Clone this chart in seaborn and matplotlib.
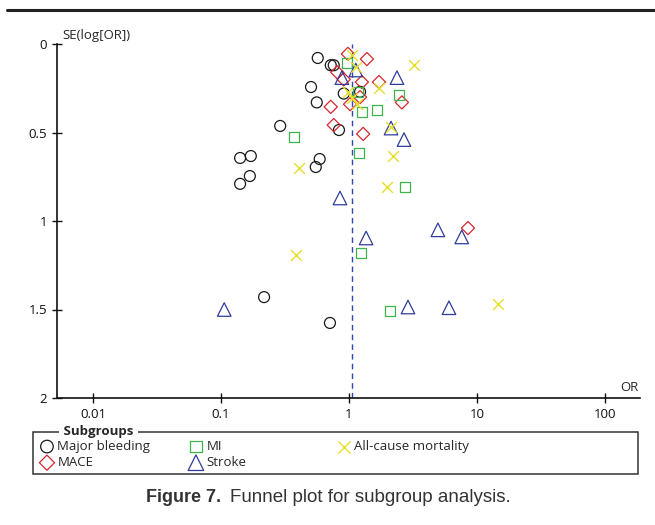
import numpy as np
import pandas as pd
import seaborn as sns
import matplotlib.pyplot as plt
from matplotlib.lines import Line2D
from matplotlib.patches import Rectangle

# values (OR, SE of log OR)
major_or = [0.57, 0.72, 0.76, 0.505, 0.56, 0.91, 1.22, 0.29, 0.835, 0.141,
            0.171, 0.141, 0.168, 0.59, 0.55, 0.217, 0.71]
major_se = [0.079, 0.12, 0.12, 0.243, 0.33, 0.28, 0.27, 0.463, 0.486, 0.644,
            0.633, 0.79, 0.746, 0.65, 0.695, 1.43, 1.576]

mace_or = [0.98, 1.38, 0.81, 0.91, 1.26, 1.715, 1.22, 1.02, 0.72, 2.59, 0.76, 1.29, 8.5]
mace_se = [0.056, 0.085, 0.16, 0.20, 0.215, 0.215, 0.30, 0.34, 0.355, 0.33, 0.458, 0.508, 1.04]

mi_or = [0.97, 1.18, 1.26, 1.65, 2.46, 0.372, 1.2, 2.74, 1.24, 2.09]
mi_se = [0.107, 0.27, 0.385, 0.373, 0.288, 0.525, 0.616, 0.81, 1.18, 1.51]

stroke_or = [1.13, 0.88, 2.37, 2.13, 2.69, 0.85, 1.36, 4.95, 7.6, 0.106, 2.89, 6.04]
stroke_se = [0.147, 0.19, 0.19, 0.475, 0.54, 0.87, 1.096, 1.05, 1.09, 1.50, 1.486, 1.49]

mort_or = [1.05, 3.22, 1.13, 0.98, 1.71, 1.05, 1.15, 2.13, 2.2, 0.41, 1.98, 0.385, 14.6]
mort_se = [0.062, 0.12, 0.13, 0.27, 0.25, 0.305, 0.34, 0.47, 0.633, 0.70, 0.81, 1.19, 1.47]

pooled_or = 1.06

groups = ['Major bleeding', 'MACE', 'MI', 'Stroke', 'All-cause mortality']
x_ticks = [0.01, 0.1, 1, 10, 100]
x_labels = ['0.01', '0.1', '1', '10', '100']
y_ticks = [0, 0.5, 1, 1.5, 2]
y_labels = ['0', '0.5', '1', '1.5', '2']

df = pd.concat([
    pd.DataFrame({'OR': major_or, 'SE': major_se, 'Subgroup': 'Major bleeding'}),
    pd.DataFrame({'OR': mace_or, 'SE': mace_se, 'Subgroup': 'MACE'}),
    pd.DataFrame({'OR': mi_or, 'SE': mi_se, 'Subgroup': 'MI'}),
    pd.DataFrame({'OR': stroke_or, 'SE': stroke_se, 'Subgroup': 'Stroke'}),
    pd.DataFrame({'OR': mort_or, 'SE': mort_se, 'Subgroup': 'All-cause mortality'}),
])

style = {
    'Major bleeding': ('o', '#1a1a1a', 62),
    'MACE': ('D', '#d7262e', 45),
    'MI': ('s', '#3cb54a', 52),
    'Stroke': ('^', '#2e3d9a', 95),
    'All-cause mortality': ('x', '#e6df2a', 60),
}

sns.set_style('ticks')
plt.rcParams['font.family'] = ['Open Sans', 'DejaVu Sans']

fig = plt.figure(figsize=(6.55, 5.25), dpi=100)
ax = fig.add_axes([57 / 655, 1 - 398 / 525, 583 / 655, 354 / 525])

for g in groups:
    m, c, s = style[g]
    sub = df[df['Subgroup'] == g]
    if m == 'x':
        kw = dict(color=c, linewidth=1.0)
    else:
        kw = dict(color=c, facecolor='none', edgecolor=c, linewidth=0.9)
    sns.scatterplot(data=sub, x='OR', y='SE', marker=m, s=s, ax=ax,
                    legend=False, label=g, **kw)

ax.axvline(pooled_or, color='#2f45b8', linestyle=(0, (4, 3)), linewidth=1.0, zorder=0)

ax.set_xscale('log')
ax.set_xlim(10 ** (-292 / 128), 10 ** (291 / 128))
ax.set_ylim(2, 0)
ax.set_xticks(x_ticks)
ax.set_xticklabels(x_labels)
ax.set_yticks(y_ticks)
ax.set_yticklabels(y_labels)
ax.minorticks_off()
ax.set_xlabel('')
ax.set_ylabel('')
ax.tick_params(direction='inout', length=7, width=1, labelsize=9.5, colors='#111111')
sns.despine(ax=ax)
for sp in ['left', 'bottom']:
    ax.spines[sp].set_linewidth(1.2)
    ax.spines[sp].set_color('#111111')

ax.text(0.01, 1.023, 'SE(log[OR])', transform=ax.transAxes, ha='left', va='center', fontsize=9.5)
ax.text(0.998, 0.03, 'OR', transform=ax.transAxes, ha='right', va='center', fontsize=9.5)

# top rule
fig.add_artist(Line2D([7 / 655, 1.0], [1 - 10 / 525, 1 - 10 / 525], color='#222222', linewidth=2.2))

# legend box with title on the border
fig.add_artist(Rectangle((33 / 655, 1 - 474 / 525), 605 / 655, 42 / 525, transform=fig.transFigure,
                         facecolor='none', edgecolor='#333333', linewidth=1.1))
fig.text(60 / 655, 1 - 432 / 525, ' Subgroups ', fontsize=9.5, fontweight='bold', ha='left', va='center',
         bbox=dict(facecolor='white', edgecolor='none', pad=0.5))

handles, labels = ax.get_legend_handles_labels()
hmap = dict(zip(labels, handles))
columns = [['Major bleeding', 'MACE'], ['MI', 'Stroke'], ['All-cause mortality']]
col_x = [41, 190, 338]
for cols, x0 in zip(columns, col_x):
    leg = fig.legend([hmap[c] for c in cols], cols, loc='upper left',
                     bbox_to_anchor=(x0 / 655, 1 - 440 / 525), frameon=False,
                     fontsize=9.5, handlelength=0.9, handletextpad=0.35, markerscale=1.15,
                     labelspacing=0.24, borderpad=0, borderaxespad=0)

fig.text(146 / 655, 1 - 497 / 525, 'Figure 7.', fontsize=13, fontweight='bold', ha='left', va='center',
         family='Liberation Sans', color='#333333')
fig.text(230 / 655, 1 - 497 / 525, 'Funnel plot for subgroup analysis.', fontsize=13.5, ha='left', va='center',
         family='Liberation Sans', color='#333333')

fig.savefig('out.png', dpi=100)
